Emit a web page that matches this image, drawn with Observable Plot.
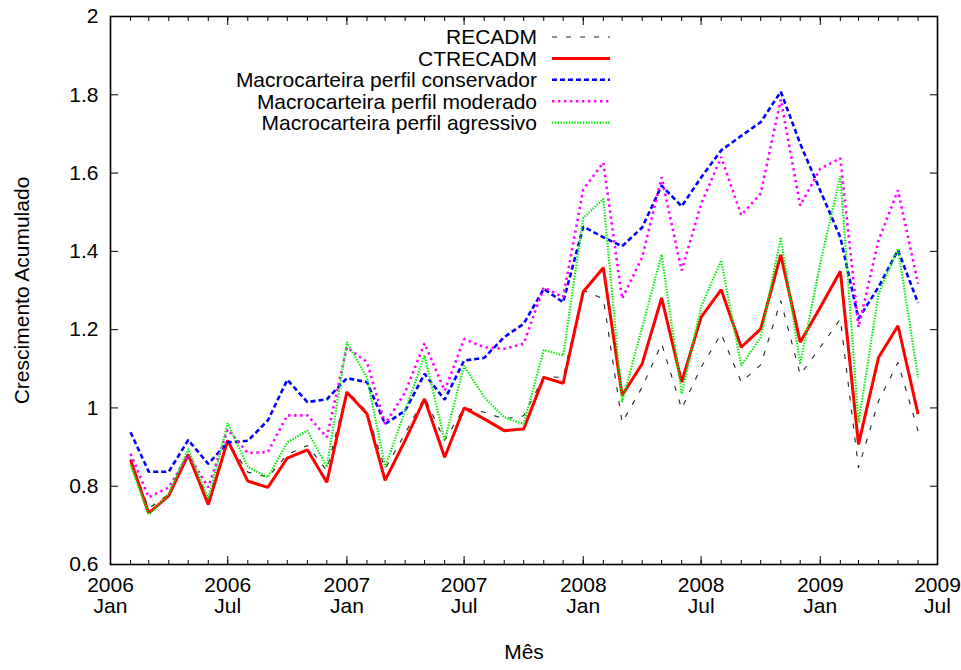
<!DOCTYPE html>
<html><head><meta charset="utf-8">
<script src="https://cdn.jsdelivr.net/npm/d3@7"></script>
<script src="https://cdn.jsdelivr.net/npm/@observablehq/plot@0.6"></script>
<style>
body{margin:0;background:#fff}
#chart{width:961px;height:670px}
</style>
</head><body><div id="chart"></div>
<script>
const months = ["2006-02","2006-03","2006-04","2006-05","2006-06","2006-07","2006-08","2006-09","2006-10","2006-11","2006-12",
"2007-01","2007-02","2007-03","2007-04","2007-05","2007-06","2007-07","2007-08","2007-09","2007-10","2007-11","2007-12",
"2008-01","2008-02","2008-03","2008-04","2008-05","2008-06","2008-07","2008-08","2008-09","2008-10","2008-11","2008-12",
"2009-01","2009-02","2009-03","2009-04","2009-05","2009-06"];

const recadm = [0.870,0.743,0.780,0.880,0.768,0.915,0.836,0.823,0.881,0.904,0.840,
1.045,0.990,0.844,0.935,1.027,0.917,1.000,0.989,0.972,0.980,1.080,1.078,
1.300,1.279,0.963,1.053,1.164,0.998,1.104,1.189,1.066,1.110,1.274,1.085,
1.155,1.227,0.847,1.018,1.116,0.941];

const ctrecadm = [0.867,0.731,0.776,0.881,0.753,0.917,0.813,0.797,0.872,0.893,0.810,
1.040,0.985,0.815,0.917,1.023,0.874,1.000,0.972,0.942,0.946,1.078,1.063,
1.297,1.358,1.032,1.113,1.281,1.066,1.232,1.302,1.155,1.202,1.391,1.168,
1.257,1.349,0.907,1.129,1.210,0.984];

const conservador = [0.938,0.837,0.837,0.918,0.857,0.912,0.916,0.968,1.072,1.015,1.022,
1.076,1.066,0.959,0.993,1.087,1.021,1.121,1.128,1.181,1.215,1.304,1.270,
1.463,1.436,1.413,1.461,1.568,1.515,1.589,1.658,1.695,1.730,1.808,1.675,
1.555,1.436,1.228,1.309,1.403,1.268];

const moderado = [0.883,0.772,0.797,0.880,0.797,0.945,0.885,0.887,0.981,0.981,0.925,
1.155,1.117,0.959,1.040,1.165,1.044,1.176,1.155,1.151,1.164,1.308,1.283,
1.558,1.627,1.279,1.385,1.589,1.351,1.521,1.641,1.492,1.548,1.788,1.517,
1.611,1.638,1.206,1.428,1.556,1.317];

const agressivo = [0.853,0.728,0.780,0.895,0.768,0.961,0.849,0.823,0.912,0.942,0.849,
1.168,1.078,0.849,0.993,1.134,0.917,1.108,1.027,0.976,0.959,1.148,1.134,
1.485,1.534,1.015,1.206,1.392,1.036,1.258,1.377,1.108,1.180,1.436,1.112,
1.370,1.592,0.962,1.291,1.407,1.078];

const seriesNames = ["RECADM","CTRECADM","Macrocarteira perfil conservador","Macrocarteira perfil moderado","Macrocarteira perfil agressivo"];
const majorTickLabels = ["2006-01","2006-07","2007-01","2007-07","2008-01","2008-07","2009-01","2009-07"];
const yTickValues = [0.6,0.8,1.0,1.2,1.4,1.6,1.8,2.0];
const monthNames = {"01":"Jan","07":"Jul"};

const parse = d3.utcParse("%Y-%m");
const FONT = "'Liberation Sans', Arial, Helvetica, sans-serif";
const FS = 21;
const styles = [
  {stroke:"#222", strokeWidth:1.1, strokeDasharray:"5,9"},
  {stroke:"#ff0000", strokeWidth:3, strokeDasharray:null},
  {stroke:"#0000ff", strokeWidth:2.6, strokeDasharray:"5,3"},
  {stroke:"#ff00ff", strokeWidth:2.6, strokeDasharray:"2.4,3.6"},
  {stroke:"#00ee00", strokeWidth:2.2, strokeDasharray:"1.4,1.4"}
];
const allSeries = [recadm, ctrecadm, conservador, moderado, agressivo];
const tables = allSeries.map((vals, k) => vals.map((v, i) => ({date: parse(months[i]), value: v, name: seriesNames[k]})));

const majorTicks = majorTickLabels.map(parse);
const minorTicks = d3.utcMonth.range(parse("2006-01"), d3.utcMonth.offset(parse("2009-07"), 1));
const blank = () => "";

const chart = Plot.plot({
  width: 961, height: 670,
  marginLeft: 110, marginRight: 24, marginTop: 16, marginBottom: 106,
  style: {fontFamily: FONT, fontSize: FS + "px", background: "#fff", color: "#000"},
  x: {type: "utc", domain: [parse("2006-01"), parse("2009-07")]},
  y: {domain: [0.6, 2]},
  marks: [
    ...tables.map((t, k) => Plot.line(t, {x: "date", y: "value", ...styles[k], strokeLinejoin: "miter", strokeLinecap: "butt"})),
    Plot.axisX({ticks: minorTicks, tickSize: -4, tickFormat: blank, label: null, strokeWidth: 1}),
    Plot.axisX({anchor: "top", ticks: minorTicks, tickSize: -4, tickFormat: blank, label: null, strokeWidth: 1}),
    Plot.axisX({ticks: majorTicks, tickSize: -8, tickPadding: 20, fontSize: FS, lineHeight: 1.02, label: null, strokeWidth: 1,
      tickFormat: d => d3.utcFormat("%Y")(d) + "\n" + monthNames[d3.utcFormat("%m")(d)]}),
    Plot.axisX({anchor: "top", ticks: majorTicks, tickSize: -8, tickFormat: blank, label: null, strokeWidth: 1}),
    Plot.axisY({ticks: yTickValues, tickSize: -8, tickPadding: 20, fontSize: FS, label: null, strokeWidth: 1,
      tickFormat: d => String(Math.round(d * 10) / 10)}),
    Plot.axisY({anchor: "right", ticks: yTickValues, tickSize: -8, tickFormat: blank, label: null, strokeWidth: 1}),
    Plot.frame({stroke: "#000", strokeWidth: 1.6}),
    Plot.text(["Mês"], {frameAnchor: "bottom", dy: 94, fontSize: FS}),
    Plot.text(["Crescimento Acumulado"], {frameAnchor: "left", textAnchor: "middle", rotate: -90, dx: -88, fontSize: FS})
  ]
});
document.getElementById("chart").appendChild(chart);

// legend (inside plot, top)
const svg = d3.select(chart);
const lg = svg.append("g").attr("font-family", FONT).attr("font-size", FS);
seriesNames.forEach((name, k) => {
  const cy = 37 + k * 21.4;
  lg.append("text").attr("x", 537).attr("y", cy).attr("dy", "0.35em").attr("text-anchor", "end").attr("fill", "#000").text(name);
  lg.append("line").attr("x1", 552).attr("x2", 610).attr("y1", cy).attr("y2", cy)
    .attr("stroke", styles[k].stroke).attr("stroke-width", styles[k].strokeWidth)
    .attr("stroke-dasharray", styles[k].strokeDasharray);
});
</script>
</body></html>
